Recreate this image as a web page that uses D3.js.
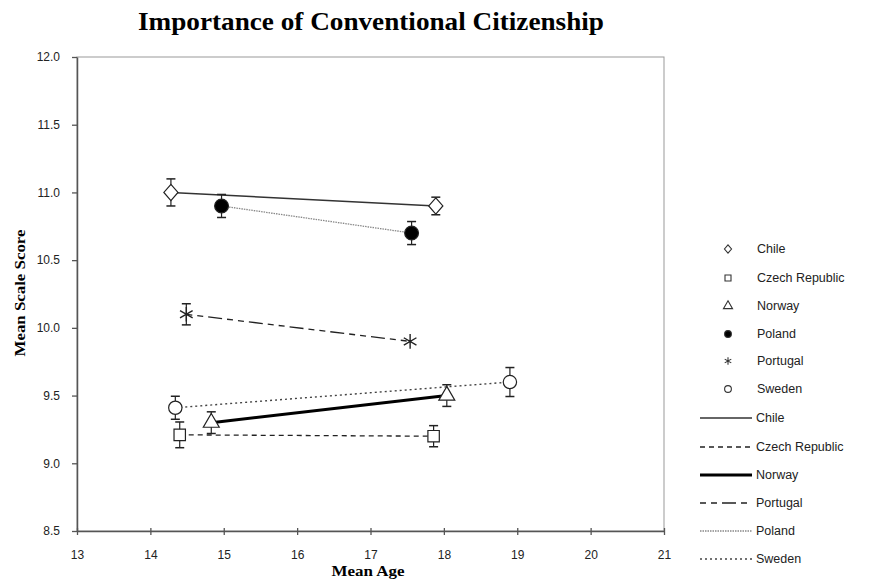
<!DOCTYPE html>
<html><head><meta charset="utf-8">
<script src="https://cdn.jsdelivr.net/npm/d3@7"></script>
<style>body{margin:0;background:#fff}</style>
</head><body><svg id="c" width="876" height="581"></svg>
<script>
const countries = ["Chile","Czech Republic","Norway","Poland","Portugal","Sweden"];
const ages   = [[14.28,17.89],[14.40,17.86],[14.83,18.04],[14.97,17.56],[14.49,17.54],[14.34,18.90]];
const scores = [[11.0,10.9],[9.21,9.2],[9.3,9.5],[10.9,10.7],[10.1,9.9],[9.41,9.6]];
const errs   = [[0.10,0.065],[0.095,0.078],[0.08,0.08],[0.085,0.085],[0.078,0],[0.085,0.107]];
const lineOrder = ["Chile","Czech Republic","Norway","Portugal","Poland","Sweden"];
const xTicks = [13,14,15,16,17,18,19,20,21];
const yTicks = [8.5,9.0,9.5,10.0,10.5,11.0,11.5,12.0];

const svg = d3.select("#c");
const L=77,T=57,R=664,B=531;
const x = d3.scaleLinear().domain([13,21]).range([L,R]);
const y = d3.scaleLinear().domain([8.5,12]).range([B,T]);

const lineStyle = {
  "Chile":{w:1.6,dash:null,c:"#333"},
  "Czech Republic":{w:1.3,dash:"5,4",c:"#222"},
  "Norway":{w:3,dash:null,c:"#000"},
  "Portugal":{w:1.3,dash:"6,5,6,5,14,5",c:"#222"},
  "Poland":{w:1.3,dash:"1.5,1",c:"#888"},
  "Sweden":{w:1.4,dash:"2,3",c:"#444"}
};
const diamond = {draw(ctx,size){const r=Math.sqrt(size)/2;ctx.moveTo(0,-r*1.15);ctx.lineTo(r,0);ctx.lineTo(0,r*1.15);ctx.lineTo(-r,0);ctx.closePath();}};
const markerType = {"Chile":diamond,"Czech Republic":d3.symbolSquare,"Norway":d3.symbolTriangle,"Poland":d3.symbolCircle,"Portugal":d3.symbolAsterisk,"Sweden":d3.symbolCircle};
const markerSize = {"Chile":200,"Czech Republic":130,"Norway":110,"Poland":150,"Portugal":150,"Sweden":140};
const markerFill = {"Chile":"#fff","Czech Republic":"#fff","Norway":"#fff","Poland":"#000","Portugal":"none","Sweden":"#fff"};
const serif = "'Liberation Serif','Times New Roman',serif";

// title
svg.append("text").attr("x",371).attr("y",30).attr("text-anchor","middle")
  .attr("font-family",serif).attr("font-weight","bold")
  .attr("font-size",25).attr("textLength",466).attr("lengthAdjust","spacingAndGlyphs")
  .text("Importance of Conventional Citizenship");

// plot frame
svg.append("rect").attr("x",L).attr("y",T).attr("width",R-L).attr("height",B-T)
  .attr("fill","none").attr("stroke","#999").attr("stroke-width",1);

const ya = svg.append("g").attr("transform",`translate(${L},0)`)
  .call(d3.axisLeft(y).tickValues(yTicks).tickFormat(d3.format(".1f")).tickSize(5).tickSizeOuter(0));
const xa = svg.append("g").attr("transform",`translate(0,${B})`)
  .call(d3.axisBottom(x).tickValues(xTicks).tickSize(4).tickSizeOuter(0));
[ya,xa].forEach(a=>{
  a.select(".domain").attr("stroke","#555").attr("stroke-width",1.5);
  a.selectAll(".tick line").attr("stroke","#555").attr("stroke-width",1.3);
  a.selectAll("text").attr("font-family","'Liberation Sans',Arial,sans-serif").attr("font-size",12).attr("fill","#222");
});
xa.selectAll(".tick line").attr("y1",-3);
xa.selectAll("text").attr("dy","1.75em");
ya.selectAll("text").attr("x",-17);

svg.append("text").attr("transform","translate(25,293) rotate(-90)").attr("text-anchor","middle")
  .attr("font-family",serif).attr("font-weight","bold").attr("font-size",14)
  .attr("textLength",127).attr("lengthAdjust","spacingAndGlyphs")
  .text("Mean Scale Score");
svg.append("text").attr("x",368).attr("y",576).attr("text-anchor","middle")
  .attr("font-family",serif).attr("font-weight","bold").attr("font-size",14)
  .attr("textLength",73).attr("lengthAdjust","spacingAndGlyphs")
  .text("Mean Age");

// lines
const line = d3.line().x(d=>x(d[0])).y(d=>y(d[1]));
countries.forEach((c,i)=>{
  const pts = ages[i].map((a,j)=>[a,scores[i][j]]);
  const s = lineStyle[c];
  svg.append("path").attr("d",line(pts)).attr("fill","none").attr("stroke",s.c)
    .attr("stroke-width",s.w).attr("stroke-dasharray",s.dash);
});
// error bars + markers
countries.forEach((c,i)=>{
  ages[i].forEach((a,j)=>{
    const v=scores[i][j], e=errs[i][j];
    const g = svg.append("g");
    if(e>0){
      g.append("line").attr("x1",x(a)).attr("x2",x(a)).attr("y1",y(v-e)).attr("y2",y(v+e)).attr("stroke","#222").attr("stroke-width",1.2);
      [v-e,v+e].forEach(t=>g.append("line").attr("x1",x(a)-4.5).attr("x2",x(a)+4.5).attr("y1",y(t)).attr("y2",y(t)).attr("stroke","#222").attr("stroke-width",1.5));
    }
    svg.append("path").attr("transform",`translate(${x(a)},${y(v)})`)
      .attr("d",d3.symbol().type(markerType[c]).size(markerSize[c])())
      .attr("fill",markerFill[c]).attr("stroke","#222").attr("stroke-width",c==="Portugal"?1.4:1.2);
  });
});

// legend
const lg = svg.append("g").attr("font-family","'Liberation Sans',Arial,sans-serif").attr("font-size",12.5).attr("fill","#222");
const mRows = [249,278,306,334,361,389];
countries.forEach((c,i)=>{
  const sz = c==="Chile"?50:(c==="Portugal"?40:36);
  lg.append("path").attr("transform",`translate(728,${mRows[i]})`)
    .attr("d",d3.symbol().type(markerType[c]).size(sz)())
    .attr("fill",c==="Poland"?"#000":(c==="Portugal"?"none":"#fff")).attr("stroke","#333").attr("stroke-width",1.1);
  lg.append("text").attr("x",757).attr("y",mRows[i]).attr("dy","0.35em").text(c);
});
const lRows = [418,447,475,503,531,559];
lineOrder.forEach((c,i)=>{
  const s=lineStyle[c];
  lg.append("line").attr("x1",700).attr("x2",752).attr("y1",lRows[i]).attr("y2",lRows[i])
    .attr("stroke",s.c).attr("stroke-width",s.w).attr("stroke-dasharray",s.dash);
  lg.append("text").attr("x",756).attr("y",lRows[i]).attr("dy","0.35em").text(c);
});
</script></body></html>
